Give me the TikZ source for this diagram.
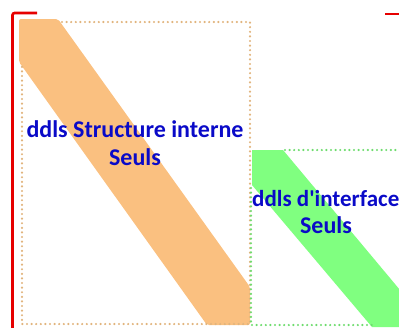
\documentclass[tikz,border=0pt]{standalone}
\usepackage{fontspec}
\setmainfont{Carlito}
\definecolor{bandorange}{RGB}{250,192,128}
\definecolor{dotorange}{RGB}{225,180,125}
\definecolor{bandgreen}{RGB}{128,255,128}
\definecolor{dotgreen}{RGB}{110,220,110}
\definecolor{txtblue}{RGB}{10,10,200}
\definecolor{brred}{RGB}{230,0,0}
\begin{document}
\begin{tikzpicture}[x=1pt,y=-1pt,
  dotline/.style={line width=2.4pt,line cap=round,dash pattern=on 0pt off 4.6pt},
  lbl/.style={font=\fontsize{24}{28}\selectfont\bfseries,text=txtblue,align=center,inner sep=0pt}]
\useasboundingbox (0,0) rectangle (399,327);
\clip (0,0) rectangle (399,327);
% red bracket
\draw[brred,line width=2.6pt,rounded corners=2pt] (37,13) -- (12.5,13) -- (12.5,330);
\draw[brred,line width=2.6pt] (385,14) -- (402,14);
% orange box
\fill[bandorange,rounded corners=2pt] (19,19) -- (58,19) -- (250,287) -- (250,325) -- (207,325) -- (19,62) -- cycle;
\draw[dotorange,dotline] (62,22) -- (250,22) -- (250,324) -- (22,324) -- (22,66);
% green box
\fill[bandgreen] (252,150) -- (283,150) -- (400,290) -- (400,327) -- (372,327) -- (252,185) -- cycle;
\draw[dotgreen,dotline] (285,150) -- (402,150);
\draw[dotgreen,dotline] (252,325) -- (372,325);
\draw[dotgreen,dotline] (251,188) -- (251,322);
% labels
\node[lbl,anchor=base] (t1) at (135,165) {ddls Structure interne\\Seuls};
\node[lbl,font=\fontsize{23}{28}\selectfont\bfseries,anchor=base west] (t2a) at (252,206) {ddls d\textquotesingle interface};
\node[lbl,anchor=base] (t2b) at (326,233) {Seuls};
\end{tikzpicture}
\end{document}
